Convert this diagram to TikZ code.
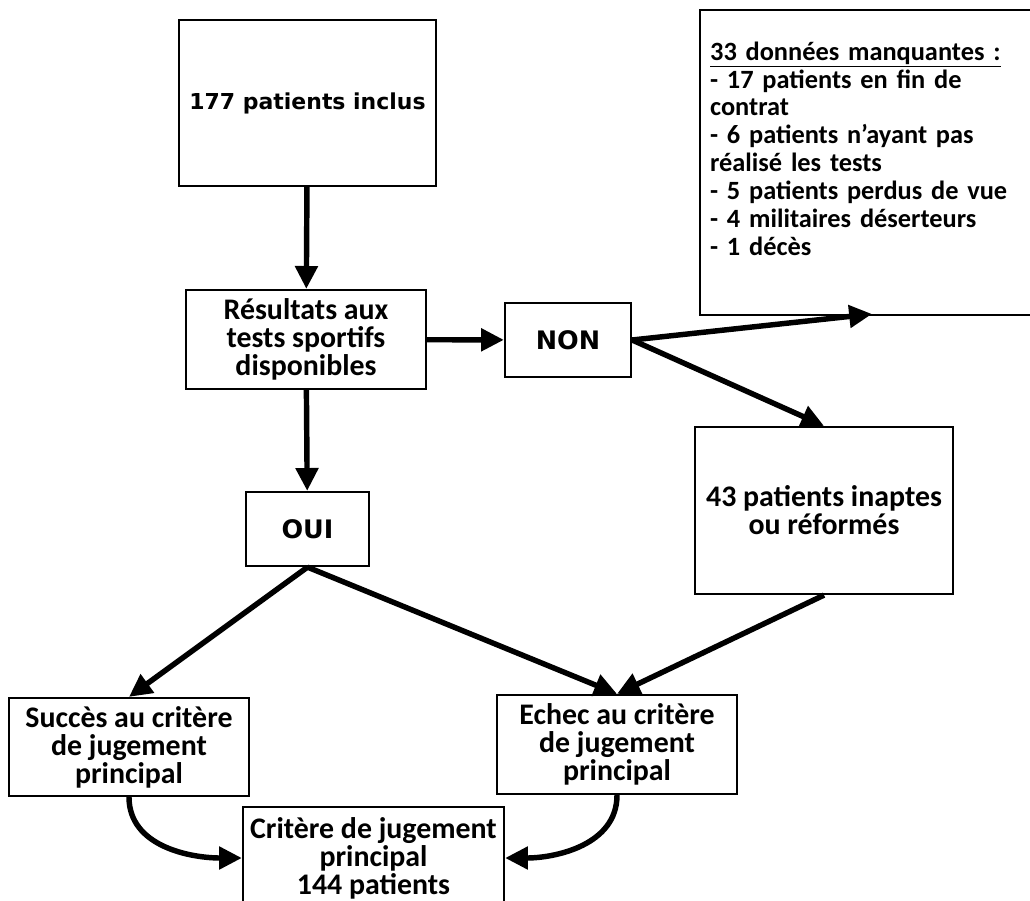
\documentclass[tikz,border=0pt]{standalone}
\usepackage{fontspec}
\setmainfont{Carlito}
\newfontfamily\verdfont{DejaVu Sans}
\usepackage{tikz}
\usetikzlibrary{arrows.meta,positioning}
\tikzset{
    boite/.style={
        draw=black,
        line width=1.3pt,
        fill=white,
        align=center,
        inner sep=2pt,
        font=\bfseries\fontsize{17}{16}\selectfont
    },
    % boites en police large (type Verdana)
    boitev/.style={
        boite,
        font=\verdfont\bfseries\fontsize{14.5}{16}\selectfont
    },
    grossefleche/.style={
        line width=3.1pt,
        black,
        ->,
        >={Triangle[length=13pt, width=12.5pt]}
    }
}

\begin{document}
\begin{tikzpicture}[x=0.02cm,y=-0.02cm]
\useasboundingbox (0,0) rectangle (1030,901);
\clip (0,0) rectangle (1030,901);

% boites
\node[boitev,minimum width=5.14cm,minimum height=3.32cm,font=\verdfont\bfseries\fontsize{12.5}{15}\selectfont] (inclus) at (307.5,103) {177 patients inclus};
\node[boite,minimum width=4.8cm,minimum height=1.98cm] (resultats) at (306,339.5) {R\'esultats aux\\tests sportifs\\disponibles};
\node[boitev,minimum width=2.52cm,minimum height=1.48cm] (non) at (568,340) {NON};
\node[boite,anchor=north west,align=left,inner sep=0.2cm,text width=6.6cm,minimum height=6.1cm,
      font=\bfseries\fontsize{15}{15.9}\selectfont] (manquantes) at (699,9)
  {\underline{33 donn\'ees manquantes :}\\
   - 17 patients en fin de\\
   contrat\\
   - 6 patients n'ayant pas\\
   r\'ealis\'e les tests\\
   - 5 patients perdus de vue\\
   - 4 militaires d\'eserteurs\\
   - 1 d\'ec\`es\\
   \mbox{}};
\node[boite,minimum width=5.16cm,minimum height=3.34cm] (inaptes) at (824,510.5) {43 patients inaptes\\ou r\'eform\'es};
\node[boitev,minimum width=2.46cm,minimum height=1.48cm] (oui) at (307.5,529) {OUI};
\node[boite,minimum width=4.8cm,minimum height=1.96cm] (succes) at (129,747) {Succ\`es au crit\`ere\\de jugement\\principal};
\node[boite,minimum width=4.8cm,minimum height=1.98cm] (echec) at (617,744.5) {Echec au crit\`ere\\de jugement\\principal};
\node[boite,minimum width=5.22cm,minimum height=2.04cm] (critere) at (373.5,858) {Crit\`ere de jugement\\principal\\144 patients};

\coordinate (bordmanq) at (872,314);

% fleches
\draw[grossefleche] (inclus) -- (resultats);
\draw[grossefleche] (resultats) -- (non);
\draw[grossefleche] (non.east) -- (bordmanq);
\draw[grossefleche] (non.east) -- (inaptes.north);
\draw[grossefleche] (resultats) -- (oui);
\draw[grossefleche] (oui.south) -- (succes.north);
\draw[grossefleche] (oui.south) -- (echec.north);
\draw[grossefleche] (inaptes.south) -- (echec.north);
\draw[grossefleche] (succes.south) to[out=-90,in=180] (critere.west);
\draw[grossefleche] (echec.south) to[out=-90,in=0] (critere.east);
\end{tikzpicture}
\end{document}
